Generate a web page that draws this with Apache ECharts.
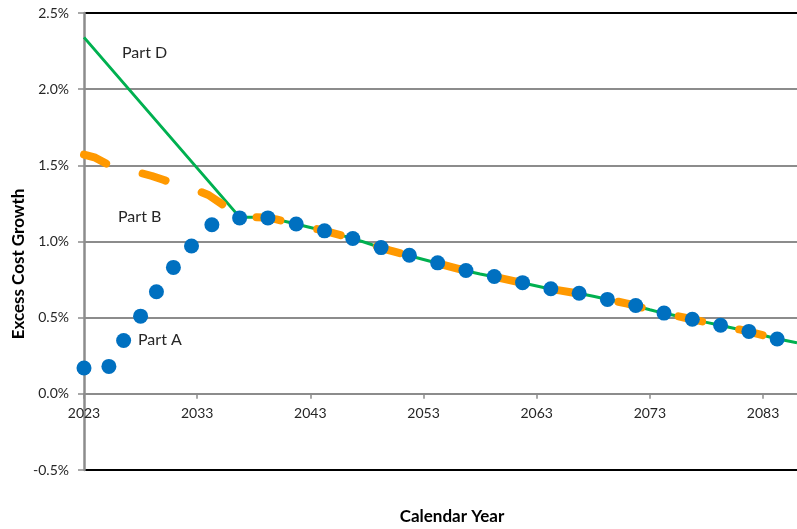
<!DOCTYPE html>
<html>
<head>
<meta charset="utf-8">
<script src="https://cdn.jsdelivr.net/npm/echarts@6.0.0/dist/echarts.min.js"></script>
<style>
  html, body { margin: 0; padding: 0; background: #ffffff; }
  #chart { width: 797px; height: 529px; }
</style>
</head>
<body>
<div id="chart"></div>
<script>
// Calendar span of the horizontal axis
const firstYear = 2023;
const lastYear = 2086;
const yearTickStep = 10;

// Excess cost growth axis (percent)
const growthMin = -0.5;
const growthMax = 2.5;
const growthStep = 0.5;

// Part A: projected points
const partAYears = [2023, 2025.2, 2026.5, 2028, 2029.4, 2030.9, 2032.5, 2034.3,
  2036.75, 2039.25, 2041.75, 2044.25, 2046.75, 2049.25, 2051.75, 2054.25,
  2056.75, 2059.25, 2061.75, 2064.25, 2066.75, 2069.25, 2071.75, 2074.25,
  2076.75, 2079.25, 2081.75, 2084.25];
const partAValues = [0.17, 0.18, 0.35, 0.51, 0.67, 0.83, 0.97, 1.11,
  1.155, 1.155, 1.115, 1.07, 1.02, 0.96, 0.91, 0.86,
  0.81, 0.77, 0.73, 0.69, 0.66, 0.62, 0.58, 0.53,
  0.49, 0.45, 0.41, 0.36];

// Part B: early years (2023-2036), one value per year
const partBEarlyYears = [2023, 2024, 2025, 2026, 2027, 2028, 2029, 2030, 2031, 2032, 2033, 2034, 2035, 2036];
const partBEarlyValues = [1.57, 1.55, 1.51, 1.48, 1.465, 1.45, 1.43, 1.405, 1.38, 1.355, 1.335, 1.305, 1.255, 1.205];

// Part D: early segment
const partDEarlyYears = [2023, 2036.75];
const partDEarlyValues = [2.34, 1.16];

// Long-range path shared by Parts B and D (2037 onward)
const longRangeYears = [2037, 2038, 2039, 2040, 2041, 2042, 2043, 2044, 2045, 2046,
  2047, 2048, 2049, 2050, 2051, 2052, 2053, 2054, 2055, 2056,
  2057, 2058, 2059, 2060, 2061, 2062, 2063, 2064, 2065, 2066,
  2067, 2068, 2069, 2070, 2071, 2072, 2073, 2074, 2075, 2076,
  2077, 2078, 2079, 2080, 2081, 2082, 2083, 2084, 2085, 2086];
const longRangeValues = [1.16, 1.16, 1.157, 1.145, 1.128, 1.11, 1.092, 1.074, 1.055, 1.035,
  1.014, 0.99, 0.965, 0.942, 0.922, 0.902, 0.882, 0.862, 0.842, 0.822,
  0.803, 0.787, 0.772, 0.756, 0.74, 0.724, 0.708, 0.692, 0.679, 0.667,
  0.655, 0.64, 0.624, 0.608, 0.592, 0.572, 0.552, 0.533, 0.517, 0.501,
  0.485, 0.469, 0.453, 0.437, 0.421, 0.404, 0.385, 0.365, 0.35, 0.335];

// Annotations
const partLabels = ['Part D', 'Part B', 'Part A'];
const xAxisTitle = 'Calendar Year';
const yAxisTitle = 'Excess Cost Growth';

// Horizontal axis runs in years since firstYear so ticks start at 0
const pairs = (years, values) => years.map((y, i) => [y - firstYear, values[i]]);

const partBData = pairs(partBEarlyYears, partBEarlyValues).concat(pairs(longRangeYears, longRangeValues));
const partDData = pairs(partDEarlyYears, partDEarlyValues).concat(pairs(longRangeYears, longRangeValues));
const partAData = pairs(partAYears, partAValues);

const textColor = '#262626';
const gridGray = '#8c8c8c';
const fontFamily = 'Lato, "Open Sans", sans-serif';

const gridTop = 13;
const gridBottom = 59;
const chartHeight = 529;

const chart = echarts.init(document.getElementById('chart'), null, { renderer: 'canvas' });

// Pixel distance from the bottom of the plot to the 0% line, so the year axis sits on zero
const plotHeight = chartHeight - gridTop - gridBottom;
const zeroLift = plotHeight * (0 - growthMin) / (growthMax - growthMin);

chart.setOption({
  animation: false,
  backgroundColor: '#ffffff',
  grid: { left: 84, right: -1, top: gridTop, bottom: gridBottom, containLabel: false },
  xAxis: {
    type: 'value',
    min: 0,
    max: lastYear - firstYear,
    interval: yearTickStep,
    position: 'bottom',
    offset: -zeroLift,
    axisLine: { show: true, onZero: false, lineStyle: { color: gridGray, width: 2 } },
    axisTick: { show: true, inside: false, length: 5, lineStyle: { color: gridGray, width: 1.5 } },
    axisLabel: {
      color: textColor, fontSize: 14, fontFamily: fontFamily, margin: 13,
      showMaxLabel: false,
      formatter: v => String(v + firstYear)
    },
    splitLine: { show: false }
  },
  yAxis: {
    type: 'value',
    min: growthMin,
    max: growthMax,
    interval: growthStep,
    axisLine: { show: true, onZero: false, lineStyle: { color: gridGray, width: 2.5 } },
    axisTick: { show: true, inside: false, length: 6, lineStyle: { color: gridGray, width: 1.5 } },
    axisLabel: {
      color: textColor, fontSize: 14, fontFamily: fontFamily, margin: 15,
      formatter: v => v.toFixed(1) + '%'
    },
    splitLine: {
      show: true,
      lineStyle: { color: ['#000000', gridGray, gridGray, gridGray, gridGray, gridGray, '#000000'], width: 2 }
    }
  },
  graphic: [
    { type: 'text', left: 122, top: 45, style: { text: partLabels[0], fill: textColor, font: '16px ' + fontFamily } },
    { type: 'text', left: 118, top: 209, style: { text: partLabels[1], fill: textColor, font: '16px ' + fontFamily } },
    { type: 'text', left: 138, top: 332, style: { text: partLabels[2], fill: textColor, font: '16px ' + fontFamily } },
    { type: 'text', x: 452, y: 517, style: { text: xAxisTitle, fill: '#000000', font: 'bold 17px ' + fontFamily, align: 'center', verticalAlign: 'middle' } },
    { type: 'text', x: 19, y: 264, rotation: Math.PI / 2, style: { text: yAxisTitle, fill: '#000000', font: 'bold 17px ' + fontFamily, align: 'center', verticalAlign: 'middle' } }
  ],
  series: [
    {
      name: 'Part D',
      type: 'line',
      data: partDData,
      showSymbol: false,
      symbol: 'none',
      lineStyle: { color: '#00B050', width: 3 },
      z: 2
    },
    {
      name: 'Part B',
      type: 'line',
      data: partBData,
      showSymbol: false,
      symbol: 'none',
      lineStyle: { color: '#FF9900', width: 8, type: [24, 38], cap: 'round', join: 'round' },
      z: 3
    },
    {
      name: 'Part A',
      type: 'scatter',
      data: partAData,
      symbol: 'circle',
      symbolSize: 15,
      itemStyle: { color: '#0070C0', opacity: 1 },
      z: 4
    }
  ]
});
</script>
</body>
</html>
